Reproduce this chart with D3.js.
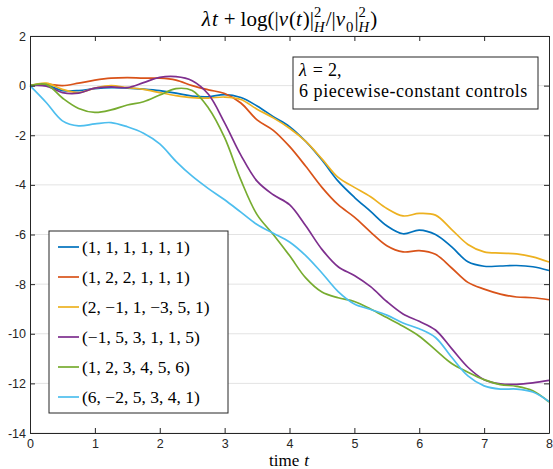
<!DOCTYPE html>
<html>
<head>
<meta charset="utf-8">
<script src="https://cdn.jsdelivr.net/npm/d3@7"></script>
<style>
  body { margin: 0; background: #fff; }
  svg { display: block; }
  .serif { font-family: "Liberation Serif", "DejaVu Serif", serif; }
</style>
</head>
<body>
<div id="chart"></div>
<script>
// time grid (t) and the six curves
const times = [0, 0.25, 0.5, 0.75, 1, 1.25, 1.5, 1.75, 2, 2.25, 2.5, 2.75, 3, 3.25, 3.5, 3.75,
  4, 4.25, 4.5, 4.75, 5, 5.25, 5.5, 5.75, 6, 6.25, 6.5, 6.75, 7, 7.25, 7.5, 7.75, 8];

const ctrlAllOnes = [0, 0.02, -0.2, -0.2, -0.12, -0.08, -0.1, -0.14, -0.2, -0.3, -0.42, -0.45, -0.36, -0.48, -0.82, -1.25,
  -1.65, -2.25, -3.0, -3.85, -4.5, -5.07, -5.65, -5.97, -5.82, -6.0, -6.5, -7.1, -7.28, -7.27, -7.25, -7.3, -7.45];
const ctrl122111 = [0, 0.06, 0.0, 0.1, 0.22, 0.3, 0.32, 0.3, 0.3, 0.22, 0.0, -0.17, -0.32, -0.7, -1.38, -1.8,
  -2.45, -3.25, -4.1, -4.8, -5.3, -5.9, -6.45, -6.7, -6.65, -6.8, -7.35, -7.93, -8.2, -8.4, -8.52, -8.55, -8.63];
const ctrl2m11m351 = [0, 0.1, -0.15, -0.28, -0.1, 0.0, -0.08, -0.15, -0.28, -0.4, -0.48, -0.5, -0.46, -0.56, -0.95, -1.3,
  -1.72, -2.25, -2.95, -3.7, -4.1, -4.48, -4.95, -5.25, -5.15, -5.22, -5.8, -6.4, -6.7, -6.75, -6.78, -6.9, -7.11];
const ctrlm153115 = [0, -0.02, -0.28, -0.3, -0.1, -0.05, -0.08, 0.12, 0.33, 0.36, 0.2, -0.35, -1.5, -2.8, -3.85, -4.4,
  -4.8, -5.65, -6.6, -7.3, -7.65, -8.1, -8.7, -9.2, -9.5, -9.85, -10.6, -11.35, -11.85, -12.02, -12.04, -11.98, -11.88];
const ctrl123456 = [0, 0.05, -0.5, -0.92, -1.08, -0.98, -0.78, -0.65, -0.38, -0.12, -0.2, -0.9, -2.1, -3.8, -5.2, -6.0,
  -6.85, -7.75, -8.32, -8.55, -8.7, -9.0, -9.35, -9.7, -10.1, -10.65, -11.2, -11.55, -11.85, -12.05, -12.12, -12.3, -12.75];
const ctrl6m25341 = [0, -0.68, -1.42, -1.62, -1.54, -1.49, -1.66, -1.92, -2.35, -3.05, -3.65, -4.15, -4.6, -5.1, -5.6, -5.95,
  -6.3, -6.85, -7.55, -8.3, -8.8, -9.02, -9.25, -9.57, -9.8, -10.15, -10.95, -11.7, -12.1, -12.23, -12.23, -12.35, -12.73];

const seriesValues = [ctrlAllOnes, ctrl122111, ctrl2m11m351, ctrlm153115, ctrl123456, ctrl6m25341];
const seriesLabels = ["(1, 1, 1, 1, 1, 1)", "(1, 2, 2, 1, 1, 1)", "(2, \u22121, 1, \u22123, 5, 1)",
  "(\u22121, 5, 3, 1, 1, 5)", "(1, 2, 3, 4, 5, 6)", "(6, \u22122, 5, 3, 4, 1)"];
const seriesColors = ["#0072BD", "#D95319", "#EDB120", "#7E2F8E", "#77AC30", "#4DBEEE"];

const xTicks = [0, 1, 2, 3, 4, 5, 6, 7, 8];
const yTicks = [-14, -12, -10, -8, -6, -4, -2, 0, 2];

// 크기 설정
const W = 553, H = 469;
const margin = { top: 36, right: 4, bottom: 36, left: 30 };
const innerW = W - margin.left - margin.right;
const innerH = H - margin.top - margin.bottom;
const sans = "'Liberation Sans', Arial, sans-serif";
const axisColor = "#262626";

const svg = d3.select("#chart").append("svg").attr("width", W).attr("height", H);
const g = svg.append("g").attr("transform", `translate(${margin.left},${margin.top})`);

const x = d3.scaleLinear().domain([0, 8]).range([0, innerW]);
const y = d3.scaleLinear().domain([-14, 2]).range([innerH, 0]);

// grid (horizontal only)
g.append("g").selectAll("line").data(yTicks).join("line")
  .attr("x1", 0).attr("x2", innerW)
  .attr("y1", d => y(d)).attr("y2", d => y(d))
  .attr("stroke", "#e3e3e3").attr("stroke-width", 1);

// curves
const line = d3.line()
  .x((d, i) => x(times[i]))
  .y(d => y(d))
  .curve(d3.curveCatmullRom.alpha(0.5));

g.append("g").selectAll("path").data(seriesValues).join("path")
  .attr("fill", "none")
  .attr("stroke", (d, i) => seriesColors[i])
  .attr("stroke-width", 1.7)
  .attr("d", line);

// axes (ticks inside, box on)
function styleAxis(sel) {
  sel.attr("font-family", null).attr("font-size", null);
  sel.select(".domain").attr("stroke", axisColor);
  sel.selectAll(".tick line").attr("stroke", axisColor);
  sel.selectAll(".tick text").attr("fill", axisColor).style("font-family", sans).style("font-size", "12.5px");
}
g.append("g").attr("transform", `translate(0,${innerH})`)
  .call(d3.axisBottom(x).tickValues(xTicks).tickSize(-5).tickSizeOuter(0).tickPadding(6).tickFormat(d => String(d)))
  .call(styleAxis);
g.append("g")
  .call(d3.axisTop(x).tickValues(xTicks).tickSize(-5).tickSizeOuter(0).tickFormat(""))
  .call(styleAxis);
g.append("g")
  .call(d3.axisLeft(y).tickValues(yTicks).tickSize(-5).tickSizeOuter(0).tickPadding(4).tickFormat(d => String(d)))
  .call(styleAxis);
g.append("g").attr("transform", `translate(${innerW},0)`)
  .call(d3.axisRight(y).tickValues(yTicks).tickSize(-5).tickSizeOuter(0).tickFormat(""))
  .call(styleAxis);
g.selectAll(".domain").attr("stroke-width", 1);

// 수식 텍스트를 조각별로 이어 붙이는 함수 (위/아래 첨자 포함)
function mathText(parent, parts, size) {
  const grp = parent.append("g").attr("class", "serif").attr("fill", "#000");
  let cx = 0;
  parts.forEach(p => {
    if (p.gap) { cx += p.gap; return; }
    if (p.sup || p.sub) {
      let w = 0;
      if (p.sup) {
        const t = grp.append("text").attr("x", cx).attr("y", -size * 0.42)
          .style("font-size", size * 0.7 + "px").text(p.sup);
        w = Math.max(w, t.node().getComputedTextLength());
      }
      if (p.sub) {
        const t = grp.append("text").attr("x", cx).attr("y", size * 0.28)
          .style("font-size", size * 0.7 + "px").style("font-style", p.subIt ? "italic" : "normal").text(p.sub);
        w = Math.max(w, t.node().getComputedTextLength());
      }
      cx += w + 1;
      return;
    }
    const t = grp.append("text").attr("x", cx).attr("y", 0)
      .style("font-size", size + "px").style("font-style", p.it ? "italic" : "normal").text(p.s);
    cx += t.node().getComputedTextLength() + (p.it ? 1 : 0);
  });
  return { grp, width: cx };
}

// title
const titleParts = [
  { s: "\u03bb", it: true }, { s: "t", it: true }, { gap: 5 }, { s: "+" }, { gap: 5 }, { s: "log" },
  { s: "(" }, { s: "|" }, { s: "v", it: true }, { s: "(" }, { s: "t", it: true }, { s: ")" }, { s: "|" },
  { sup: "2", sub: "H", subIt: true }, { s: "/" }, { s: "|" }, { s: "v", it: true }, { sub: "0" }, { s: "|" },
  { sup: "2", sub: "H", subIt: true }, { s: ")" }
];
const title = mathText(svg, titleParts, 21);
title.grp.attr("transform", `translate(${margin.left + innerW / 2 - title.width / 2},26)`);

// x label
const xl = mathText(svg, [{ s: "time" }, { gap: 5 }, { s: "t", it: true }], 17);
xl.grp.attr("transform", `translate(${margin.left + innerW / 2 - xl.width / 2},466)`);

// annotation box
const boxX = 293, boxY = 57, boxW = 245, boxH = 52;
svg.append("rect").attr("x", boxX).attr("y", boxY).attr("width", boxW).attr("height", boxH)
  .attr("fill", "#fff").attr("stroke", axisColor).attr("stroke-width", 1);
const a1 = mathText(svg, [{ s: "\u03bb", it: true }, { gap: 5 }, { s: "=" }, { gap: 5 }, { s: "2," }], 18);
a1.grp.attr("transform", `translate(${boxX + 6},${boxY + 19})`);
const a2 = mathText(svg, [{ s: "6 piecewise-constant controls" }], 18);
a2.grp.attr("transform", `translate(${boxX + 6},${boxY + 40})`);
a2.grp.selectAll("text").attr("letter-spacing", "0.55px");

// legend
const legX = 49, legY = 231, legW = 179, legH = 182;
svg.append("rect").attr("x", legX).attr("y", legY).attr("width", legW).attr("height", legH)
  .attr("fill", "#fff").attr("stroke", axisColor).attr("stroke-width", 1);
const leg = svg.append("g").attr("class", "serif");
seriesLabels.forEach((lab, i) => {
  const ly = legY + 16 + i * 30;
  leg.append("line").attr("x1", legX + 9).attr("x2", legX + 30).attr("y1", ly).attr("y2", ly)
    .attr("stroke", seriesColors[i]).attr("stroke-width", 1.7);
  leg.append("text").attr("x", legX + 33).attr("y", ly + 6)
    .style("font-size", "17.5px").attr("fill", "#000").text(lab);
});
</script>
</body>
</html>
